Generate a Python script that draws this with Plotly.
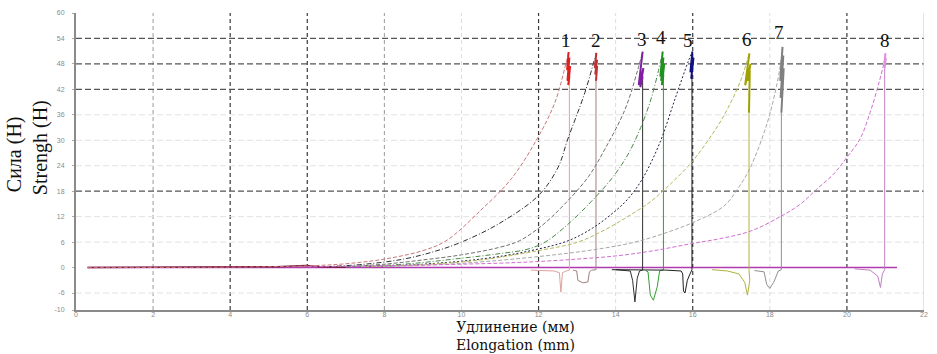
import plotly.graph_objects as go

# ---------------- data ----------------
x_ticks = [0, 2, 4, 6, 8, 10, 12, 14, 16, 18, 20, 22]
y_ticks = [-10, -6, 0, 6, 12, 18, 24, 30, 36, 42, 48, 54, 60]

# rising parts
c1_rise_x = [0.3, 4.0, 6.0, 7.0, 8.0, 9.0, 9.6, 10.5, 11.3, 11.96, 12.42, 12.68, 12.78]
c1_rise_y = [0.0, 0.1, 0.4, 0.9, 2.0, 4.0, 6.3, 13.5, 21.0, 30.3, 38.8, 47.0, 50.8]
c2_rise_x = [6.5, 7.5, 8.5, 9.3, 10.0, 11.0, 12.0, 12.5, 12.76, 13.2, 13.45, 13.5]
c2_rise_y = [0.2, 0.8, 2.0, 3.8, 6.0, 10.5, 17.0, 23.5, 30.3, 41.2, 49.0, 50.6]
c3_rise_x = [7.0, 8.0, 9.0, 10.0, 11.0, 11.5, 12.1, 12.68, 13.3, 13.72, 14.24, 14.57, 14.70]
c3_rise_y = [0.2, 0.8, 1.8, 3.0, 4.8, 6.3, 10.0, 15.0, 21.5, 27.9, 37.2, 46.5, 50.9]
c4_rise_x = [7.0, 8.5, 10.0, 11.0, 11.7, 12.17, 12.8, 13.36, 13.9, 14.31, 14.65, 14.91, 15.1, 15.22]
c4_rise_y = [0.2, 0.8, 2.2, 3.3, 4.3, 6.0, 10.5, 15.5, 21.0, 26.5, 33.0, 39.5, 46.0, 50.9]
c5_rise_x = [7.5, 9.0, 10.5, 11.7, 12.76, 13.4, 13.88, 14.3, 14.7, 15.15, 15.55, 15.88, 15.99]
c5_rise_y = [0.2, 0.8, 2.0, 3.8, 6.3, 9.3, 12.5, 16.0, 21.0, 29.5, 40.0, 48.5, 50.9]
c6_rise_x = [7.5, 9.0, 10.5, 12.0, 13.02, 13.7, 14.31, 14.9, 15.4, 15.94, 16.4, 16.82, 17.24, 17.42, 17.47]
c6_rise_y = [0.2, 0.7, 1.8, 4.0, 6.0, 8.8, 12.0, 15.5, 19.5, 24.5, 30.0, 36.0, 44.0, 49.0, 50.5]
c7_rise_x = [8.0, 10.0, 12.0, 13.5, 14.5, 15.4, 16.1, 16.81, 17.2, 17.49, 17.93, 18.19, 18.3, 18.33]
c7_rise_y = [0.2, 1.0, 2.6, 4.3, 6.0, 8.5, 11.0, 14.5, 19.0, 23.5, 34.0, 43.5, 49.5, 52.0]
c8_rise_x = [6.0, 9.0, 11.47, 13.0, 14.06, 15.0, 15.94, 16.7, 17.5, 18.27, 18.8, 19.22, 19.65, 20.0,
             20.34, 20.6, 20.83, 20.98, 21.0]
c8_rise_y = [0.2, 0.6, 1.2, 2.0, 2.8, 4.0, 5.6, 6.8, 8.6, 12.0, 15.0, 18.5, 22.0, 26.0,
             30.3, 36.5, 43.5, 49.0, 50.5]

# jagged peaks
c1_peak_x = [12.78, 12.74, 12.80, 12.75, 12.82, 12.77, 12.80]
c1_peak_y = [50.8, 46.5, 49.5, 44.0, 47.5, 43.0, 45.0]
c2_peak_x = [13.50, 13.46, 13.52, 13.47, 13.52, 13.49]
c2_peak_y = [50.6, 47.0, 49.0, 45.5, 47.5, 44.0]
c3_peak_x = [14.70, 14.62, 14.68, 14.60, 14.72, 14.64, 14.70]
c3_peak_y = [50.9, 44.5, 49.0, 43.0, 47.0, 42.5, 45.0]
c4_peak_x = [15.22, 15.16, 15.24, 15.18, 15.26, 15.20, 15.24]
c4_peak_y = [50.9, 45.0, 49.5, 44.0, 48.0, 43.0, 45.5]
c5_peak_x = [15.99, 15.94, 16.02, 15.96, 16.01, 15.98]
c5_peak_y = [50.9, 46.0, 49.5, 44.5, 48.0, 45.5]
c6_peak_x = [17.47, 17.38, 17.45, 17.36, 17.50, 17.42, 17.48, 17.46]
c6_peak_y = [50.5, 45.0, 49.5, 43.0, 48.0, 44.0, 46.5, 36.5]
c7_peak_x = [18.33, 18.27, 18.35, 18.28, 18.36, 18.30]
c7_peak_y = [52.0, 44.0, 50.0, 40.0, 47.0, 36.5]
c8_peak_x = [21.00, 20.97, 21.01, 20.98]
c8_peak_y = [50.5, 48.0, 49.5, 47.0]

# drops after break
c1_drop_x = [12.80, 12.80, 12.72, 12.62, 12.58, 12.54, 12.40, 11.8]
c1_drop_y = [45.0, -0.6, -0.8, -1.2, -5.8, -1.2, -0.8, -0.6]
c2_drop_x = [13.49, 13.49, 13.38, 13.32, 13.28, 13.15, 13.02, 12.99, 12.9]
c2_drop_y = [44.0, -0.5, -0.6, -1.0, -3.4, -3.6, -3.0, -0.8, -0.6]
c3_drop_x = [14.70, 14.70, 14.62, 14.56, 14.50, 14.44, 14.38, 14.0]
c3_drop_y = [45.0, -0.6, -0.8, -2.5, -8.1, -3.0, -0.8, -0.5]
c4_drop_x = [15.24, 15.24, 15.14, 15.08, 14.98, 14.90, 14.84, 14.78]
c4_drop_y = [45.5, -0.5, -0.8, -4.5, -7.7, -6.5, -1.0, -0.7]
c5_drop_x = [15.98, 15.98, 15.93, 15.86, 15.80, 15.76, 15.74, 15.70, 15.3, 14.8, 13.9]
c5_drop_y = [45.5, -0.5, -1.5, -3.0, -6.0, -5.5, -1.5, -0.8, -0.6, -0.6, -0.5]
c6_drop_x = [17.46, 17.46, 17.48, 17.42, 17.35, 17.2, 16.9, 16.5]
c6_drop_y = [36.5, -0.5, -3.0, -6.5, -3.5, -1.5, -0.8, -0.5]
c7_drop_x = [18.30, 18.30, 18.22, 18.10, 18.00, 17.92, 17.85, 17.6]
c7_drop_y = [36.5, -0.5, -0.8, -3.5, -4.9, -4.0, -1.0, -0.7]
c8_drop_x = [20.98, 20.98, 20.92, 20.87, 20.80, 20.6, 20.2]
c8_drop_y = [47.0, -0.5, -1.5, -4.7, -2.0, -0.6, -0.3]

# baselines
base_x = [0.3, 21.3]
base_y = [0.0, 0.0]
noise_x = [0.3, 3.5, 4.5, 5.2, 5.8, 6.0, 6.3, 7.0]
noise_y = [0.0, 0.1, 0.2, 0.2, 0.4, 0.5, 0.2, 0.1]

# curve numbers
label_text = ["1", "2", "3", "4", "5", "6", "7", "8"]
label_x = [12.71, 13.49, 14.68, 15.17, 15.89, 17.41, 18.24, 20.98]
label_y = [53.6, 53.6, 53.8, 54.3, 53.6, 53.8, 55.4, 53.6]

# grid
dark_x = [4, 6, 12, 16, 20]
mid_x = [2, 8]
light_x = [10, 14, 18]
dark_y = [54, 48, 42, 18]
light_y = [36, 30, 24, 12, 6, -6]

# ---------------- styling ----------------
rise_colors = ["#c87878", "#303030", "#707070", "#4a8a4a", "#202040", "#b8b860", "#a8a8a8", "#d070d0"]
DASH = "4px,2px"
DASHDOT = "5px,2px,1px,2px"
DOT = "2px,2px"
rise_dash = [DASH, DASHDOT, DASH, DASHDOT, DOT, DASH, DASH, DASH]
peak_colors = ["#e02020", "#c03030", "#8020a0", "#209020", "#101080", "#a0a000", "#808080", "#e090e0"]
drop_colors = ["#e0a0a0", "#a08080", "#303030", "#30a030", "#202020", "#b0b040", "#909090", "#c080c0"]

rises = [(c1_rise_x, c1_rise_y), (c2_rise_x, c2_rise_y), (c3_rise_x, c3_rise_y), (c4_rise_x, c4_rise_y),
         (c5_rise_x, c5_rise_y), (c6_rise_x, c6_rise_y), (c7_rise_x, c7_rise_y), (c8_rise_x, c8_rise_y)]
peaks = [(c1_peak_x, c1_peak_y), (c2_peak_x, c2_peak_y), (c3_peak_x, c3_peak_y), (c4_peak_x, c4_peak_y),
         (c5_peak_x, c5_peak_y), (c6_peak_x, c6_peak_y), (c7_peak_x, c7_peak_y), (c8_peak_x, c8_peak_y)]
drops = [(c1_drop_x, c1_drop_y), (c2_drop_x, c2_drop_y), (c3_drop_x, c3_drop_y), (c4_drop_x, c4_drop_y),
         (c5_drop_x, c5_drop_y), (c6_drop_x, c6_drop_y), (c7_drop_x, c7_drop_y), (c8_drop_x, c8_drop_y)]

fig = go.Figure()

fig.add_trace(go.Scatter(x=base_x, y=base_y, mode="lines",
                         line=dict(color="#b03ab0", width=1.5), showlegend=False, hoverinfo="skip"))
fig.add_trace(go.Scatter(x=noise_x, y=noise_y, mode="lines",
                         line=dict(color="#7a1a3a", width=1.5), showlegend=False, hoverinfo="skip"))

for i in range(8):
    dx, dy = drops[i]
    fig.add_trace(go.Scatter(x=dx, y=dy, mode="lines",
                             line=dict(color=drop_colors[i], width=1), showlegend=False, hoverinfo="skip"))
for i in range(8):
    rx, ry = rises[i]
    fig.add_trace(go.Scatter(x=rx, y=ry, mode="lines", line_shape="spline",
                             line=dict(color=rise_colors[i], width=1, dash=rise_dash[i]),
                             showlegend=False, hoverinfo="skip"))
for i in range(8):
    px_, py_ = peaks[i]
    fig.add_trace(go.Scatter(x=px_, y=py_, mode="lines",
                             line=dict(color=peak_colors[i], width=2), showlegend=False, hoverinfo="skip"))

shapes = []
for v in dark_x:
    shapes.append(dict(type="line", xref="x", yref="y", x0=v, x1=v, y0=-10, y1=60,
                       line=dict(color="#3a3a3a", width=1.2, dash="4px,3px"), layer="below"))
for v in mid_x:
    shapes.append(dict(type="line", xref="x", yref="y", x0=v, x1=v, y0=-10, y1=60,
                       line=dict(color="#9a9a9a", width=1, dash="4px,3px"), layer="below"))
for v in light_x:
    shapes.append(dict(type="line", xref="x", yref="y", x0=v, x1=v, y0=-10, y1=60,
                       line=dict(color="#dcdcdc", width=1, dash="4px,3px"), layer="below"))
for v in dark_y:
    shapes.append(dict(type="line", xref="x", yref="y", x0=0, x1=22, y0=v, y1=v,
                       line=dict(color="#555555", width=1.2, dash="6px,3px"), layer="below"))
for v in light_y:
    shapes.append(dict(type="line", xref="x", yref="y", x0=0, x1=22, y0=v, y1=v,
                       line=dict(color="#e2e2e2", width=1, dash="6px,3px"), layer="below"))
shapes.append(dict(type="line", xref="x", yref="y", x0=22, x1=22, y0=-10, y1=60,
                   line=dict(color="#c8c8c8", width=1), layer="below"))

annotations = []
for t, lx, ly in zip(label_text, label_x, label_y):
    annotations.append(dict(x=lx, y=ly, xref="x", yref="y", text=t, showarrow=False,
                            font=dict(family="Liberation Serif", size=19, color="#111111")))

serif = "Liberation Serif"
annotations += [
    dict(xref="paper", yref="paper", x=0.518, y=-0.0266, borderpad=0,
         text="Удлинение (мм)<br>Elongation (mm)", showarrow=False,
         font=dict(family="DejaVu Serif", size=14, color="#111"), xanchor="center", yanchor="top"),
    dict(xref="paper", yref="paper", x=-0.073, y=0.525, text="Сила (Н)", showarrow=False, textangle=-90,
         font=dict(family=serif, size=20, color="#111"), xanchor="center", yanchor="middle"),
    dict(xref="paper", yref="paper", x=-0.0425, y=0.548, text="Strengh (H)", showarrow=False, textangle=-90,
         font=dict(family=serif, size=20, color="#111"), xanchor="center", yanchor="middle"),
]

fig.update_layout(
    width=937, height=354,
    margin=dict(l=76, r=10, t=9, b=44),
    paper_bgcolor="white", plot_bgcolor="white",
    shapes=shapes, annotations=annotations,
    showlegend=False,
    xaxis=dict(range=[0, 22], tickvals=x_ticks, ticktext=[str(v) for v in x_ticks],
               showgrid=False, zeroline=False, showline=True, linecolor="#8a8a8a", linewidth=2,
               ticks="", ticklabelstandoff=-3,
               tickfont=dict(family="Arial", size=7, color="#8a8a8a")),
    yaxis=dict(range=[-10, 60], tickvals=y_ticks, ticktext=[str(v) for v in y_ticks],
               showgrid=False, zeroline=False, showline=True, linecolor="#8a8a8a", linewidth=2,
               ticks="outside", ticklen=2, tickcolor="#aaaaaa", ticklabelstandoff=6,
               tickfont=dict(family="Arial", size=7, color="#8a8a8a")),
)

fig.write_html("out.html", config={"displayModeBar": False},
               post_script="document.body.style.margin='0';")
